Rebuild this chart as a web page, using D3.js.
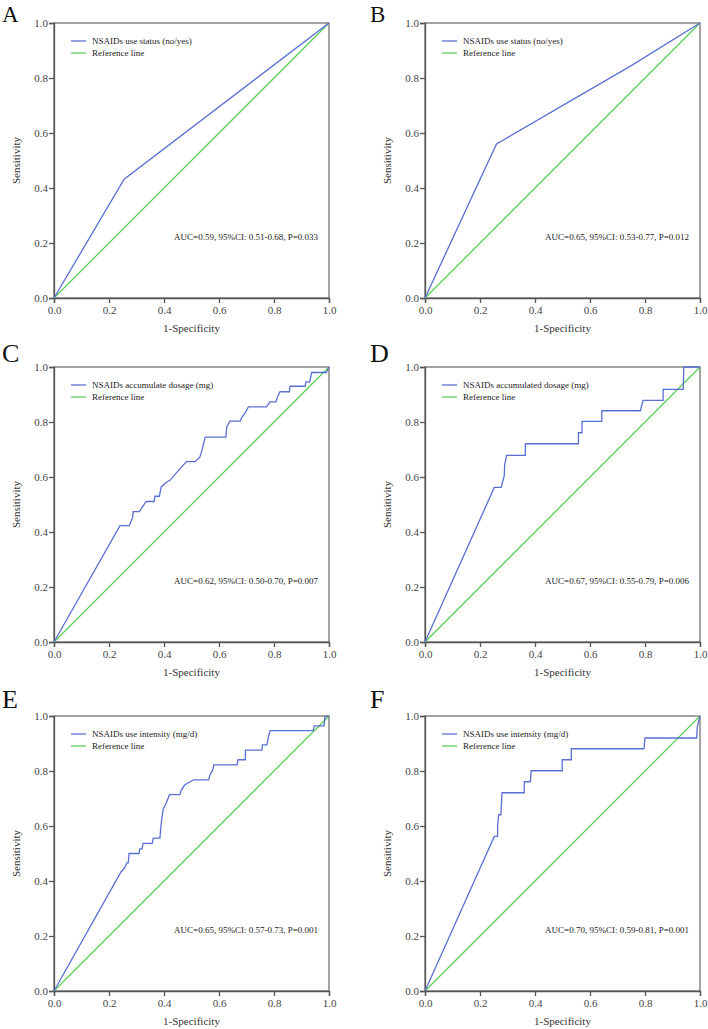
<!DOCTYPE html>
<html lang="en">
<head>
    <meta charset="UTF-8">
    <title>ROC curves A-F</title>
    <script src="https://d3js.org/d3.v7.min.js"></script>
    <style>
        body {
            margin: 0;
            background: #fff;
        }
        svg text {
            font-family: "Liberation Serif", "Times New Roman", serif;
        }
        .tick text {
            font-size: 11px;
            fill: #444;
        }
        .tick line, .domain {
            stroke: #555;
        }
    </style>
</head>
<body>
    <div id="chart"></div>

    <script>
        // ROC curve points (1-Specificity, Sensitivity)
        const fprA = [0, 0.255, 1];
        const tprA = [0, 0.432, 1];

        const fprB = [0, 0.26, 0.75, 1];
        const tprB = [0, 0.56, 0.845, 1];

        const fprC = [0, 0.24, 0.274, 0.286, 0.288, 0.31, 0.335, 0.364, 0.367, 0.383, 0.39, 0.41, 0.422,
                      0.464, 0.482, 0.513, 0.53, 0.535, 0.55, 0.625, 0.628, 0.64, 0.677, 0.682, 0.695, 0.707,
                      0.773, 0.785, 0.807, 0.813, 0.822, 0.856, 0.858, 0.913, 0.916, 0.93, 0.937, 0.99, 1];
        const tprC = [0, 0.423, 0.423, 0.453, 0.474, 0.474, 0.511, 0.511, 0.53, 0.53, 0.564, 0.582, 0.588,
                      0.637, 0.656, 0.656, 0.672, 0.686, 0.745, 0.745, 0.782, 0.803, 0.803, 0.815, 0.833, 0.855,
                      0.855, 0.873, 0.873, 0.892, 0.91, 0.91, 0.93, 0.93, 0.946, 0.946, 0.98, 0.98, 1];

        const fprD = [0, 0.252, 0.277, 0.288, 0.29, 0.297, 0.365, 0.365, 0.558, 0.558, 0.571, 0.571, 0.643,
                      0.643, 0.783, 0.793, 0.866, 0.866, 0.939, 0.941, 1];
        const tprD = [0, 0.562, 0.562, 0.604, 0.646, 0.679, 0.679, 0.721, 0.721, 0.761, 0.761, 0.802, 0.802,
                      0.841, 0.841, 0.879, 0.879, 0.919, 0.919, 1, 1];

        const fprE = [0, 0.243, 0.257, 0.265, 0.27, 0.273, 0.309, 0.312, 0.32, 0.324, 0.357, 0.361, 0.385,
                      0.39, 0.397, 0.406, 0.42, 0.458, 0.462, 0.475, 0.508, 0.563, 0.566, 0.577, 0.581, 0.666,
                      0.669, 0.696, 0.696, 0.756, 0.758, 0.774, 0.78, 0.786, 0.943, 0.946, 0.982, 0.985, 1];
        const tprE = [0, 0.432, 0.448, 0.466, 0.466, 0.5, 0.5, 0.517, 0.517, 0.537, 0.537, 0.556, 0.556,
                      0.611, 0.662, 0.678, 0.714, 0.714, 0.729, 0.749, 0.768, 0.768, 0.783, 0.804, 0.822, 0.822,
                      0.841, 0.841, 0.876, 0.876, 0.895, 0.895, 0.925, 0.947, 0.947, 0.964, 0.964, 0.998, 1];

        const fprF = [0, 0.252, 0.264, 0.264, 0.268, 0.276, 0.28, 0.361, 0.361, 0.383, 0.386, 0.499, 0.499,
                      0.532, 0.532, 0.796, 0.8, 0.988, 0.99, 1];
        const tprF = [0, 0.562, 0.562, 0.6, 0.641, 0.641, 0.721, 0.721, 0.761, 0.761, 0.801, 0.801, 0.841,
                      0.841, 0.881, 0.881, 0.92, 0.92, 0.96, 1];

        const panelLetters = ["A", "B", "C", "D", "E", "F"];
        const legendNames = [
            "NSAIDs use status (no/yes)",
            "NSAIDs use status (no/yes)",
            "NSAIDs accumulate dosage (mg)",
            "NSAIDs accumulated dosage (mg)",
            "NSAIDs use intensity (mg/d)",
            "NSAIDs use intensity (mg/d)"
        ];
        const aucTexts = [
            "AUC=0.59, 95%CI: 0.51-0.68, P=0.033",
            "AUC=0.65, 95%CI: 0.53-0.77, P=0.012",
            "AUC=0.62, 95%CI: 0.50-0.70, P=0.007",
            "AUC=0.67, 95%CI: 0.55-0.79, P=0.006",
            "AUC=0.65, 95%CI: 0.57-0.73, P=0.001",
            "AUC=0.70, 95%CI: 0.59-0.81, P=0.001"
        ];
        const tickValues = [0, 0.2, 0.4, 0.6, 0.8, 1.0];
        const referenceLine = [0, 1];

        const curves = [
            [fprA, tprA], [fprB, tprB], [fprC, tprC],
            [fprD, tprD], [fprE, tprE], [fprF, tprF]
        ];

        const blue = "#5a6fd2";
        const green = "#5acf5a";

        // layout: two columns, three rows
        const size = 275;
        const lefts = [54, 425];
        const tops = [23, 367, 716];
        const letterY = [22, 362, 708];

        const svg = d3.select("#chart")
            .append("svg")
            .attr("width", 708)
            .attr("height", 1029);

        curves.forEach((c, i) => {
            const col = i % 2;
            const row = Math.floor(i / 2);
            const x0 = lefts[col];
            const y0 = tops[row];

            const x = d3.scaleLinear().domain([0, 1]).range([0, size]);
            const y = d3.scaleLinear().domain([0, 1]).range([size, 0]);

            // panel letter
            svg.append("text")
                .attr("x", col === 0 ? 2 : 370)
                .attr("y", letterY[row])
                .style("font-size", row === 0 ? "23px" : "26px")
                .style("fill", "#111")
                .text(panelLetters[i]);

            const g = svg.append("g")
                .attr("transform", `translate(${x0},${y0})`);

            // plot frame
            g.append("rect")
                .attr("width", size)
                .attr("height", size)
                .attr("fill", "none")
                .attr("stroke", "#666")
                .attr("stroke-width", 1.2);

            g.append("g")
                .attr("transform", `translate(0,${size})`)
                .call(d3.axisBottom(x).tickValues(tickValues).tickFormat(d3.format(".1f")).tickSize(5).tickPadding(3))
                .call(a => a.selectAll(".domain").attr("stroke-width", 1.3))
                .call(a => a.selectAll(".tick line").attr("stroke-width", 1.3));

            g.append("g")
                .call(d3.axisLeft(y).tickValues(tickValues).tickFormat(d3.format(".1f")).tickSize(5).tickPadding(1))
                .call(a => a.selectAll(".domain").attr("stroke-width", 1.3))
                .call(a => a.selectAll(".tick line").attr("stroke-width", 1.3));

            // axis titles
            g.append("text")
                .attr("x", size / 2)
                .attr("y", size + 34)
                .attr("text-anchor", "middle")
                .style("font-size", "11px")
                .style("fill", "#333")
                .text("1-Specificity");

            g.append("text")
                .attr("transform", `translate(-34,${size / 2}) rotate(-90)`)
                .attr("text-anchor", "middle")
                .style("font-size", "11px")
                .style("fill", "#333")
                .text("Sensitivity");

            const line = d3.line()
                .x(d => x(d[0]))
                .y(d => y(d[1]));

            // reference line
            g.append("path")
                .datum(referenceLine.map(v => [v, v]))
                .attr("d", line)
                .attr("fill", "none")
                .attr("stroke", green)
                .attr("stroke-width", 1.3);

            // ROC curve
            g.append("path")
                .datum(c[0].map((v, k) => [v, c[1][k]]))
                .attr("d", line)
                .attr("fill", "none")
                .attr("stroke", blue)
                .attr("stroke-width", 1.3);

            // legend
            const legend = g.append("g")
                .attr("transform", "translate(17,18)");
            [[blue, legendNames[i]], [green, "Reference line"]].forEach((item, k) => {
                legend.append("line")
                    .attr("x1", 0).attr("x2", 15)
                    .attr("y1", k * 12).attr("y2", k * 12)
                    .attr("stroke", item[0])
                    .attr("stroke-width", 1.3);
                legend.append("text")
                    .attr("x", 21)
                    .attr("y", k * 12 + 3)
                    .style("font-size", "9px")
                    .style("fill", "#222")
                    .text(item[1]);
            });

            // AUC annotation
            g.append("text")
                .attr("x", x(0.96))
                .attr("y", y(0.21))
                .attr("text-anchor", "end")
                .style("font-size", "9px")
                .style("fill", "#222")
                .text(aucTexts[i]);
        });
    </script>
</body>
</html>
